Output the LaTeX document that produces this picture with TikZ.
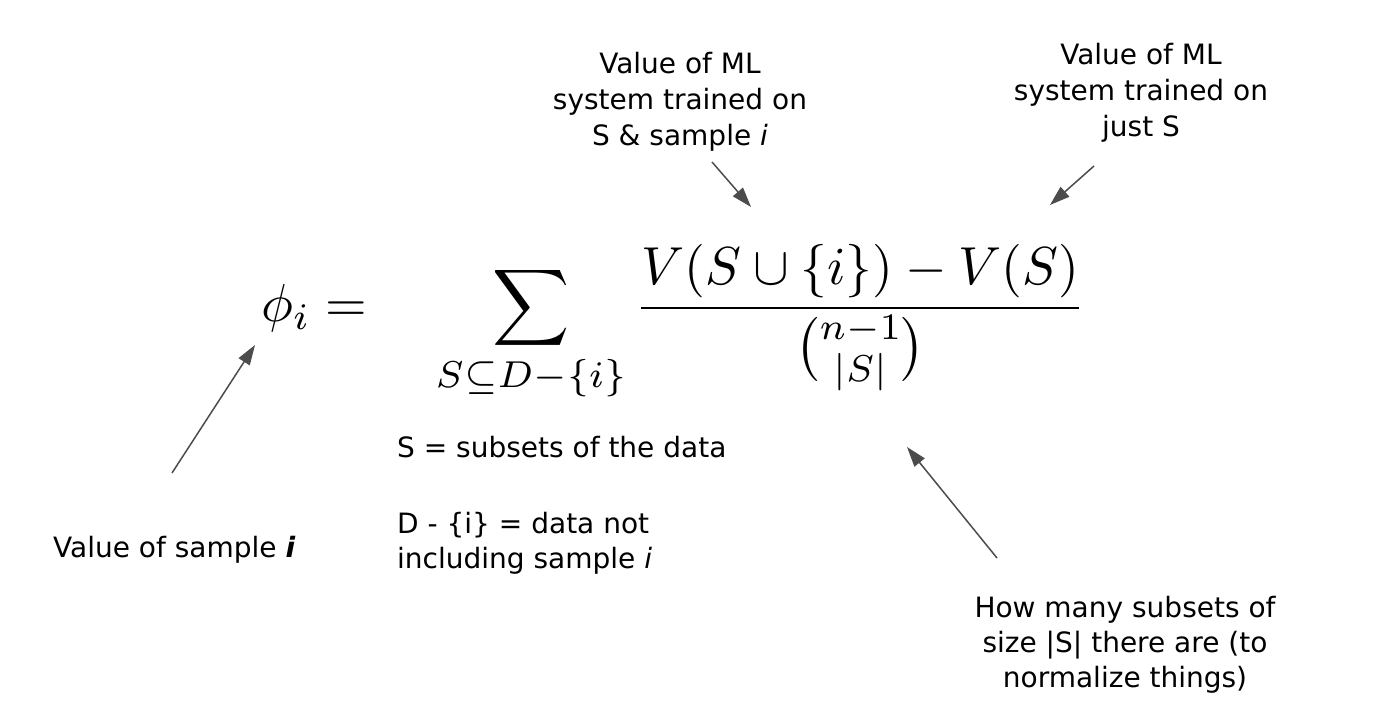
\documentclass[tikz,border=0pt]{standalone}
\usepackage{amsmath}
\usepackage{graphicx}
\usepackage{fontspec}
\newfontfamily\notefont{DejaVu Sans}
\usetikzlibrary{arrows.meta}

\begin{document}
\begin{tikzpicture}[x=1pt, y=-1pt,
    note/.style = {font={\notefont\fontsize{28}{36}\selectfont}, inner sep=0pt},
    pointer/.style = {draw=black!70, line width=1.5pt, -{Triangle[length=20pt, width=13pt]}}]
\useasboundingbox (0,0) rectangle (1400,727);

\node[anchor=base west, inner sep=0pt] (formula) at (261,321)
    {\scalebox{5.35}{$\displaystyle \phi_i = \quad \sum_{S\subseteq D-\{i\}} \frac{V(S\cup\{i\})-V(S)}{\binom{n-1}{|S|}}$}};

% base anchor of a multi-line node = last line
\node[note, align=center, anchor=base] (withi) at (680,146)
    {Value of ML\\system trained on\\S \& sample \textit{i}};
\node[note, align=center, anchor=base] (justs) at (1141,137)
    {Value of ML\\system trained on\\just S};
\node[note, anchor=base west] (valsample) at (53,557) {Value of sample \textbf{\textit{i}}};
\node[note, anchor=base west] (sdef) at (397,457) {S = subsets of the data};
\node[note, align=left, anchor=base west] (ddef) at (397,568)
    {D - \{i\} = data not\\[-1pt]including sample \textit{i}};
\node[note, align=center, anchor=base] (howmany) at (1125,687)
    {How many subsets of\\[-1pt]size |S| there are (to\\[-1pt]normalize things)};

\coordinate (withitail) at (712,162);
\coordinate (withitip) at (751,207);
\coordinate (juststail) at (1094,166);
\coordinate (juststip) at (1050,205);
\coordinate (phitail) at (172,473);
\coordinate (phitip) at (255,345);
\coordinate (binomtail) at (997,558);
\coordinate (binomtip) at (907,447);

\draw[pointer] (withitail) -- (withitip);
\draw[pointer] (juststail) -- (juststip);
\draw[pointer] (phitail) -- (phitip);
\draw[pointer] (binomtail) -- (binomtip);
\end{tikzpicture}
\end{document}
